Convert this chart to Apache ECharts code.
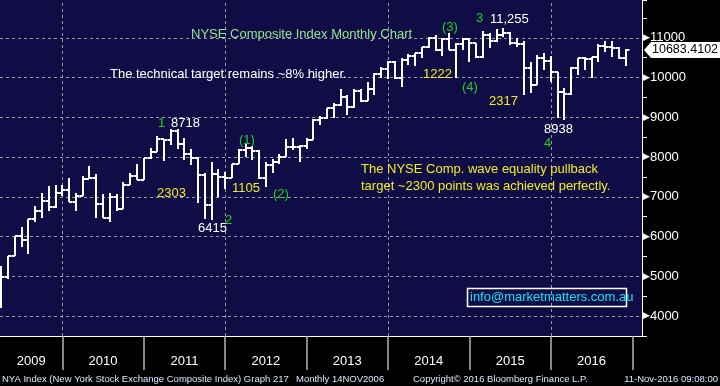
<!DOCTYPE html>
<html><head><meta charset="utf-8">
<script src="https://cdn.jsdelivr.net/npm/echarts@6/dist/echarts.min.js"></script>
<style>html,body{margin:0;padding:0;background:#000;}#c{width:720px;height:386px;}</style>
</head><body><div id="c"></div>
<script>
// ---- DATA (monthly OHLC, NYSE Composite) ----
const months = [
 '2009-03','2009-04','2009-05','2009-06','2009-07','2009-08','2009-09','2009-10','2009-11','2009-12',
 '2010-01','2010-02','2010-03','2010-04','2010-05','2010-06','2010-07','2010-08','2010-09','2010-10','2010-11','2010-12',
 '2011-01','2011-02','2011-03','2011-04','2011-05','2011-06','2011-07','2011-08','2011-09','2011-10','2011-11','2011-12',
 '2012-01','2012-02','2012-03','2012-04','2012-05','2012-06','2012-07','2012-08','2012-09','2012-10','2012-11','2012-12',
 '2013-01','2013-02','2013-03','2013-04','2013-05','2013-06','2013-07','2013-08','2013-09','2013-10','2013-11','2013-12',
 '2014-01','2014-02','2014-03','2014-04','2014-05','2014-06','2014-07','2014-08','2014-09','2014-10','2014-11','2014-12',
 '2015-01','2015-02','2015-03','2015-04','2015-05','2015-06','2015-07','2015-08','2015-09','2015-10','2015-11','2015-12',
 '2016-01','2016-02','2016-03','2016-04','2016-05','2016-06','2016-07','2016-08','2016-09','2016-10','2016-11'
];
const opens = [
 4622,4992,5521,6007,5906,6435,6654,6906,6745,7107,
 7183,6871,7032,7460,7485,6813,6478,6996,6704,7291,7518,7435,
 7988,8130,8442,8424,8658,8316,8089,7980,7543,6805,7586,7500,
 7480,7837,8190,8230,8150,7475,7812,7880,8010,8255,8250,8290,
 8440,8930,8980,9230,9320,9500,9250,9660,9400,9710,10080,10220,
 10400,9980,10430,10530,10610,10770,10990,10680,10980,10700,10834,10967,
 10859,10522,11080,10917,11068,11111,10859,10850,10230,9809,10481,10410,
 10140,9640,9580,10245,10480,10470,10510,10790,10770,10740,10500
];
const highs = [
 5251,5521,6024,6233,6435,6780,7107,7266,7299,7299,
 7485,7107,7518,7777,7568,7082,7097,7082,7374,7601,7820,7988,
 8240,8525,8460,8700,8718,8482,8215,7990,7600,7878,7711,7626,
 7837,8215,8341,8290,8190,7880,7950,8080,8460,8467,8300,8480,
 8960,9040,9240,9350,9700,9560,9710,9720,9880,10120,10260,10420,
 10420,10500,10600,10620,10780,11020,11060,11000,11108,10860,10985,10990,
 10880,11169,11110,11220,11255,11150,10985,10917,10396,10565,10620,10530,
 10140,9726,10270,10500,10510,10520,10840,10920,10930,10760,10716
];
const lows = [
 4211,4942,5521,5737,5561,6367,6468,6644,6730,7022,
 6871,6644,7032,7440,6468,6478,6367,6644,6704,7291,7417,7435,
 7963,8130,7903,8300,8215,7938,7795,6845,6453,6415,6996,7208,
 7470,7837,8000,7920,7460,7236,7600,7820,7990,8172,7878,8200,
 8440,8800,8960,8990,9290,9050,9240,9380,9400,9560,10000,9960,
 9960,9750,10320,10300,10500,10740,10660,10540,10700,9990,10690,10396,
 10497,10497,10733,10900,11025,10816,10774,9557,9600,9809,10200,9890,
 8970,8938,9560,10060,10190,9980,10400,10650,10520,10460,10296
];
const closes = [
 4992,5521,6007,5906,6435,6654,6906,6745,7107,7183,
 6871,7032,7460,7485,6813,6478,6996,6704,7291,7518,7435,7988,
 8130,8442,8424,8658,8316,8089,7980,7543,6805,7586,7500,7480,
 7837,8190,8230,8150,7475,7812,7880,8010,8255,8250,8290,8440,
 8930,8980,9230,9320,9500,9250,9660,9400,9710,10080,10220,10400,
 9980,10430,10530,10610,10770,10990,10680,10980,10700,10834,10967,10859,
 10522,11080,10917,11068,11111,10859,10850,10230,9809,10481,10410,10140,
 9640,9580,10245,10480,10470,10510,10790,10770,10740,10500,10683.4102
];
const yearLabels = ['2009','2010','2011','2012','2013','2014','2015','2016'];
const yearLabelPos = [7.41,18,30,42,54,66,78,90];
const yearBounds = [12,24,36,48,60,72,84,96];
const gridMonths = [12,36,60,84];
const gridValues = [4000,5000,6000,7000,8000,9000,10000,11000];

// ---- helpers ----
const monthIndex = s => (+s.slice(0,4) - 2009) * 12 + (+s.slice(5,7));
const ohlc = months.map((m,i) => [monthIndex(m), opens[i], highs[i], lows[i], closes[i]]);
const lastIdx = ohlc.length - 1;
const FONT = 'Liberation Sans, Arial, sans-serif';

const GREEN = '#1fd11f', YEL = '#eeee22', WHITE = '#ffffff';
const notes = [
 {t:'NYSE Composite Index Monthly Chart', x:191, y:34.5, c:'#8fe88f'},
 {t:'The technical target remains ~8% higher.', x:110, y:74, c:WHITE},
 {t:'1', x:158, y:123, c:GREEN},
 {t:'8718', x:171, y:123, c:WHITE},
 {t:'(1)', x:239, y:140, c:GREEN},
 {t:'2303', x:157, y:193, c:YEL},
 {t:'1105', x:232, y:188, c:YEL},
 {t:'(2)', x:273, y:194, c:GREEN},
 {t:'2', x:225, y:220, c:GREEN},
 {t:'6415', x:198, y:228, c:WHITE},
 {t:'(3)', x:442, y:27, c:GREEN},
 {t:'3', x:476, y:18, c:GREEN},
 {t:'11,255', x:490, y:19, c:WHITE},
 {t:'1222', x:423, y:74, c:YEL},
 {t:'(4)', x:462, y:87, c:GREEN},
 {t:'2317', x:489, y:101, c:YEL},
 {t:'8938', x:544, y:129, c:WHITE},
 {t:'4', x:544, y:143, c:GREEN},
 {t:'The NYSE Comp. wave equality pullback', x:361, y:169, c:YEL},
 {t:'target ~2300 points was achieved perfectly.', x:361, y:186, c:YEL},
 {t:'info@marketmatters.com.au', x:470, y:297.5, c:'#12e2f5'}
];
const footer = [
 {t:'NYA Index (New York Stock Exchange Composite Index) Graph 217', x:2, a:'left'},
 {t:'Monthly 14NOV2006', x:296, a:'left'},
 {t:'Copyright\u00A9 2016 Bloomberg Finance L.P.', x:413, a:'left'},
 {t:'11-Nov-2016 09:08:00', x:718, a:'right'}
];

const graphics = notes.map(n => ({type:'text', x:n.x, y:n.y, z:50, silent:true,
  style:{text:n.t, fill:n.c, fontSize:13, fontFamily:FONT, verticalAlign:'middle', align:'left'}}));
graphics.push({type:'rect', shape:{x:467.5, y:288.5, width:159, height:18}, z:49, silent:true,
  style:{fill:'none', stroke:'#ffffff', lineWidth:1.5}});
footer.forEach(f => graphics.push({type:'text', x:f.x, y:379, z:50, silent:true,
  style:{text:f.t, fill:'#dde6ff', fontSize:9.5, fontFamily:FONT, verticalAlign:'middle', align:f.a}}));

const chart = echarts.init(document.getElementById('c'), null, {renderer:'canvas'});
chart.setOption({
  animation:false,
  backgroundColor:'#000000',
  grid:{left:0, top:0, width:642, height:336, show:true, backgroundColor:'#100d46', borderWidth:0, containLabel:false},
  xAxis:{type:'value', min:2.82, max:97.43,
    axisLine:{show:true, onZero:false, lineStyle:{color:'#ffffff', width:1}},
    axisTick:{show:true, customValues:yearBounds, length:34, lineStyle:{color:'#b4b4b4', width:1.5}},
    axisLabel:{customValues:yearLabelPos, formatter:v => yearLabels[Math.floor(v/12)] || '',
      color:'#ffffff', fontSize:13, fontFamily:FONT, margin:19},
    splitLine:{show:false}},
  yAxis:{type:'value', position:'right', min:3500, max:11950, interval:500,
    axisLine:{show:true, onZero:false, lineStyle:{color:'#ffffff', width:1}},
    axisTick:{show:true, length:5, lineStyle:{color:'#ffffff'}},
    axisLabel:{margin:1, formatter:v => (v % 1000 === 0) ? '{a|\u25B6}{b|' + v + '}' : '',
      rich:{a:{color:'#ffffff', fontSize:9, fontFamily:'DejaVu Sans'}, b:{color:'#ffffff', fontSize:13, fontFamily:FONT}}},
    splitLine:{show:false}},
  graphic:graphics,
  series:[
    {type:'custom', name:'NYA', data:ohlc, z:3, clip:true,
     encode:{x:0, y:[1,2,3,4]},
     renderItem:(params, api) => {
       const x = api.value(0);
       const pO = api.coord([x, api.value(1)]), pH = api.coord([x, api.value(2)]);
       const pL = api.coord([x, api.value(3)]), pC = api.coord([x, api.value(4)]);
       const w = api.size([1, 0])[0] * 0.5;
       const cx = Math.round(pH[0]);
       const st = {stroke:'#ffffff', lineWidth:2};
       return {type:'group', children:[
         {type:'line', shape:{x1:cx, y1:Math.round(pH[1]), x2:cx, y2:Math.round(pL[1])}, style:st},
         {type:'line', shape:{x1:cx - w, y1:Math.round(pO[1]), x2:cx, y2:Math.round(pO[1])}, style:st},
         {type:'line', shape:{x1:cx, y1:Math.round(pC[1]), x2:cx + w, y2:Math.round(pC[1])}, style:st}
       ]};
     },
     markLine:{silent:true, symbol:'none', z:1, animation:false, label:{show:false},
       lineStyle:{color:'#9a9a9a', width:1, type:[3,3]},
       data:gridValues.map(v => ({yAxis:v})).concat(gridMonths.map(m => ({xAxis:m})))}
    },
    {type:'custom', name:'last', data:[[ohlc[lastIdx][0], closes[lastIdx]]], z:20, clip:false, silent:true,
     renderItem:(params, api) => {
       const cs = params.coordSys;
       const px = cs.x + cs.width;
       const py = Math.round(api.coord([api.value(0), api.value(1)])[1]);
       return {type:'group', children:[
         {type:'polygon', shape:{points:[[px+2,py],[px+9,py-8],[px+80,py-8],[px+80,py+8],[px+9,py+8]]}, style:{fill:'#ffffff'}},
         {type:'text', style:{text:closes[lastIdx].toFixed(4), x:px+10, y:py, fill:'#000000', fontSize:12.5, fontFamily:FONT, verticalAlign:'middle', align:'left'}}
       ]};
     }}
  ]
});
</script></body></html>
